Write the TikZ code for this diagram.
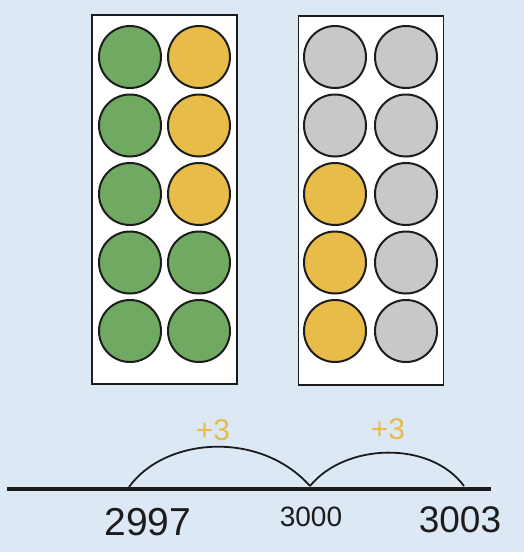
\documentclass[tikz,border=0pt]{standalone}
\usepackage{fontspec}
\setmainfont{Liberation Sans}
\usepackage{tikz}
\usetikzlibrary{positioning}
\definecolor{skyback}{RGB}{220,232,244}
\definecolor{dotgreen}{RGB}{112,170,98}
\definecolor{dotyellow}{RGB}{232,188,72}
\definecolor{dotgrey}{RGB}{200,200,200}
\definecolor{inkline}{RGB}{28,28,28}
\tikzset{
  frame/.style={draw=inkline, line width=1.4pt, fill=white,
    minimum width=145pt, minimum height=369pt, inner sep=0pt},
  dot/.style={circle, draw=inkline, line width=2pt,
    minimum size=62pt, inner sep=0pt},
  hop/.style={inkline, line width=1.8pt},
  steplabel/.style={text=dotyellow, font=\fontsize{30}{30}\selectfont},
}
\begin{document}
\begin{tikzpicture}[x=1pt, y=-1pt]
  \fill[skyback] (0,0) rectangle (524,552);
  \useasboundingbox (0,0) rectangle (524,552);

  % Ten frames
  \node[frame] (leftframe) at (164.5,199.5) {};
  \node[frame] (rightframe) at (371,200.5) {};

  % Left frame: seven green, three yellow
  \foreach \r/\a/\b in {1/dotgreen/dotyellow, 2/dotgreen/dotyellow,
      3/dotgreen/dotyellow, 4/dotgreen/dotgreen, 5/dotgreen/dotgreen} {
    \node[dot, fill=\a] (l\r a) at (130,{57+68.5*(\r-1)}) {};
    \node[dot, fill=\b] (l\r b) at (199,{57+68.5*(\r-1)}) {};
  }

  % Right frame: three yellow, seven grey
  \foreach \r/\a/\b in {1/dotgrey/dotgrey, 2/dotgrey/dotgrey,
      3/dotyellow/dotgrey, 4/dotyellow/dotgrey, 5/dotyellow/dotgrey} {
    \node[dot, fill=\a] (r\r a) at (335,{57+68.5*(\r-1)}) {};
    \node[dot, fill=\b] (r\r b) at (406,{57+68.5*(\r-1)}) {};
  }

  % Number line
  \coordinate (linestart) at (7,489);
  \coordinate (lineend) at (491,489);
  \draw[inkline, line width=4pt] (linestart) -- (lineend);
  \coordinate (p2997) at (129,487);
  \coordinate (p3000) at (310,486);
  \coordinate (p3003) at (464,486);

  % Jumps
  \draw[hop] (p2997) .. controls (165,437) and (260,430) .. (p3000);
  \draw[hop] (p3000) .. controls (345,443) and (430,440) .. (p3003);
  \node[steplabel] (jumpa) at (213,430) {+3};
  \node[steplabel] (jumpb) at (388,429) {+3};

  % Numbers
  \node[font=\fontsize{39}{39}\selectfont, text=inkline] (n2997) at (148,522) {2997};
  \node[font=\fontsize{28}{28}\selectfont, text=inkline] (n3000) at (311,517) {3000};
  \node[font=\fontsize{37}{37}\selectfont, text=inkline] (n3003) at (460,520) {3003};
\end{tikzpicture}
\end{document}
